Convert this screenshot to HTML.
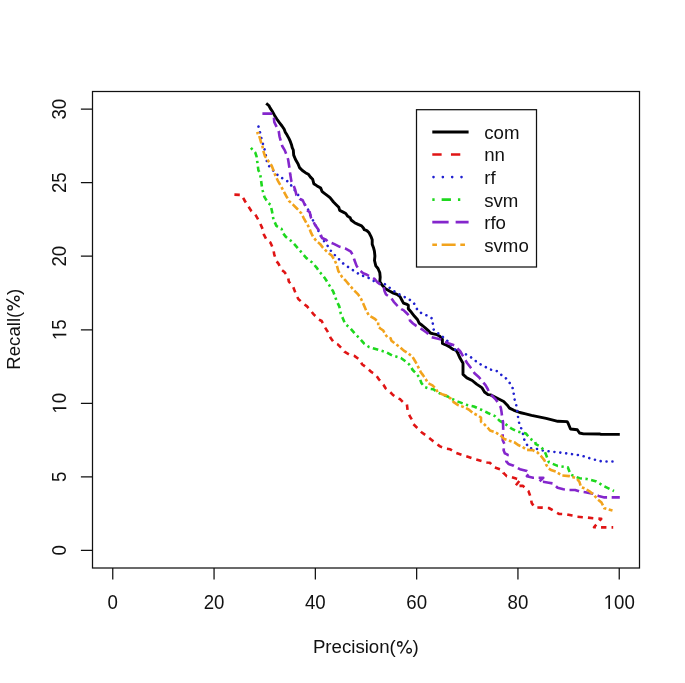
<!DOCTYPE html>
<html><head><meta charset="utf-8"><style>
html,body{margin:0;padding:0;background:#fff;width:685px;height:683px;overflow:hidden}
svg{display:block;will-change:transform;filter:blur(0.4px)}
text{font-family:"Liberation Sans",sans-serif;font-size:18.67px;fill:#111}
</style></head><body>
<svg width="685" height="683" viewBox="0 0 685 683">
<rect width="685" height="683" fill="#fff"/>
<path d="M266.2,103.3 L268.8,105.5 L270.2,108.1 L272.1,111.0 L274.6,115.4 L276.8,119.0 L279.4,122.7 L282.0,126.0 L284.2,129.3 L285.3,132.2 L287.1,135.1 L288.9,138.4 L290.4,141.7 L291.5,144.7 L292.2,147.6 L293.3,150.0 L293.7,155.1 L295.5,159.5 L298.1,163.9 L299.5,167.6 L302.4,170.5 L305.4,172.7 L308.3,174.2 L310.5,177.1 L312.7,179.3 L313.8,183.7 L317.1,185.9 L320.7,188.1 L322.2,191.7 L325.1,193.9 L328.1,196.1 L330.0,197.6 L333.5,202.0 L336.2,204.7 L338.8,207.3 L339.7,210.4 L343.2,212.1 L345.8,213.5 L347.6,216.1 L350.2,217.8 L351.1,220.0 L354.6,222.7 L358.1,224.4 L361.6,225.8 L363.4,228.0 L364.3,229.7 L366.9,230.6 L369.1,232.8 L370.9,236.3 L372.2,239.8 L372.2,244.2 L373.5,247.7 L374.4,251.2 L374.9,256.0 L374.5,260.5 L375.8,265.8 L378.0,268.5 L379.8,272.8 L380.2,277.2 L379.8,281.6 L382.0,285.1 L385.5,288.7 L389.9,291.3 L393.4,293.1 L396.9,294.4 L400.0,296.6 L401.8,300.0 L403.5,303.1 L407.0,304.4 L408.3,305.3 L408.3,308.8 L411.4,312.3 L414.5,316.3 L417.6,319.8 L419.3,323.3 L422.4,325.5 L425.5,328.1 L428.6,330.8 L430.3,333.0 L433.4,333.8 L436.9,334.7 L439.5,336.0 L442.4,339.3 L442.4,343.5 L445.7,344.8 L449.2,346.6 L452.7,349.2 L456.2,350.5 L458.0,353.6 L460.0,358.1 L463.0,363.2 L463.0,369.8 L463.0,374.4 L466.9,377.9 L472.2,380.5 L476.6,384.1 L481.8,387.6 L484.5,392.0 L488.0,394.6 L490.5,394.9 L494.9,397.1 L499.3,399.3 L503.7,401.5 L507.3,405.2 L509.5,408.1 L513.9,410.3 L519.8,412.5 L525.6,413.9 L531.5,415.4 L538.8,416.9 L546.1,418.3 L552.0,419.8 L557.8,421.3 L567.1,421.6 L568.0,423.0 L570.5,429.0 L577.3,429.8 L579.5,433.0 L583.5,433.9 L600.0,434.0 L601.0,434.4 L619.8,434.4" fill="none" stroke="#000000" stroke-width="2.9" stroke-linejoin="round" stroke-linecap="butt"/>
<path d="M234.4,194.6 L241.5,194.9 L244.9,201.0 L247.1,204.6 L251.5,211.2 L255.1,214.2 L258.1,219.3 L260.3,223.7 L263.2,230.3 L263.9,234.7 L266.9,240.5 L270.5,242.7 L273.4,249.3 L274.2,254.4 L276.4,261.0 L278.6,263.9 L281.5,269.8 L284.4,272.0 L288.1,277.1 L288.8,281.5 L293.2,287.0 L296.1,294.6 L298.3,299.0 L304.2,304.2 L307.1,306.4 L310.7,310.7 L313.7,314.4 L318.8,319.5 L321.7,321.0 L324.7,326.9 L328.3,332.7 L330.5,337.8 L334.2,343.0 L337.8,344.4 L342.2,348.8 L344.4,351.7 L349.5,354.7 L354.7,356.1 L359.8,359.8 L362.0,364.2 L365.9,367.1 L371.7,372.2 L375.4,374.4 L379.0,379.5 L383.4,384.7 L385.6,388.3 L389.3,391.2 L392.2,394.2 L396.6,397.8 L400.3,399.3 L403.9,403.0 L406.9,404.4 L407.6,410.3 L409.8,416.1 L412.0,419.8 L413.4,424.2 L417.1,427.8 L421.5,432.2 L426.6,435.9 L431.7,440.0 L440.0,446.4 L445.9,448.6 L450.2,449.3 L456.1,452.9 L464.9,455.9 L469.3,457.3 L475.9,459.5 L486.9,462.5 L490.0,462.8 L493.5,467.0 L502.3,470.1 L503.2,472.7 L506.7,476.2 L510.0,476.7 L516.0,478.6 L520.4,479.7 L515.3,485.9 L523.0,485.9 L528.4,491.0 L530.6,497.0 L531.7,503.0 L534.7,507.5 L541.5,507.6 L548.8,508.0 L553.2,510.5 L559.0,513.9 L566.4,514.2 L572.2,515.6 L577.3,516.8 L586.9,517.5 L593.5,518.3 L601.2,518.8 L594.0,527.3 L613.2,527.4" fill="none" stroke="#e01414" stroke-width="2.6" stroke-linejoin="round" stroke-linecap="butt" stroke-dasharray="5.4,5.1"/>
<path d="M258.5,126.6 L260.2,133.0 L261.5,138.9 L263.3,145.1 L265.0,151.0 L266.2,157.0 L267.2,163.7 L270.7,168.1 L278.6,176.0 L283.9,179.1 L288.8,182.1 L292.0,186.5 L295.7,191.4 L298.7,195.8 L302.0,200.5 L305.3,205.0 L308.0,209.4 L310.1,214.7 L313.0,220.5 L316.0,226.0 L319.0,232.0 L322.0,238.9 L325.9,243.2 L331.7,252.0 L337.6,257.8 L343.4,263.7 L350.7,268.8 L356.6,272.5 L361.0,275.4 L366.9,276.9 L372.7,280.5 L376.7,282.5 L384.6,284.0 L389.0,287.3 L393.0,290.4 L397.8,293.5 L403.1,296.1 L407.9,298.8 L412.7,301.6 L415.8,306.0 L417.6,310.7 L422.4,313.6 L427.7,315.8 L432.2,318.6 L432.9,324.4 L433.7,329.5 L438.1,333.2 L441.7,336.0 L445.7,339.1 L450.0,343.5 L454.9,349.3 L460.0,352.2 L465.9,354.4 L471.0,357.3 L475.9,361.2 L480.2,364.2 L484.6,366.4 L489.0,369.3 L496.4,370.7 L500.7,374.4 L505.1,377.3 L508.1,381.0 L511.7,385.4 L513.2,389.8 L513.9,394.9 L514.7,400.0 L516.1,404.4 L516.9,408.8 L517.6,413.2 L518.3,419.1 L519.5,424.5 L521.5,429.0 L522.8,433.0 L523.6,437.0 L524.7,441.1 L529.1,448.1 L537.0,449.0 L542.9,450.5 L550.2,451.5 L558.3,452.4 L566.4,453.4 L574.4,454.5 L581.7,455.6 L588.3,457.8 L594.9,459.7 L602.2,461.5 L612.8,461.5" fill="none" stroke="#2020d0" stroke-width="2.6" stroke-linejoin="round" stroke-linecap="round" stroke-dasharray="0.01,5.9"/>
<path d="M250.9,147.9 L255.3,152.7 L256.6,156.7 L257.5,163.3 L258.4,170.3 L260.1,173.4 L261.0,180.0 L261.9,186.6 L262.8,191.0 L264.5,197.1 L268.3,203.2 L270.5,204.6 L272.0,211.2 L273.4,219.3 L276.4,225.9 L281.5,228.8 L283.0,233.2 L285.9,236.9 L292.5,242.0 L296.9,247.1 L302.0,253.0 L306.4,258.1 L312.2,262.5 L316.6,267.6 L320.0,272.5 L322.9,275.4 L325.9,279.8 L329.5,285.6 L333.2,291.5 L335.4,297.3 L336.4,300.5 L339.3,306.4 L340.8,313.7 L343.0,318.8 L345.2,323.9 L350.3,328.3 L354.7,333.4 L359.8,338.6 L364.2,343.7 L369.0,347.0 L377.4,349.5 L386.2,352.1 L392.1,355.4 L400.9,358.0 L405.4,361.2 L409.8,364.9 L412.7,370.0 L415.6,372.9 L419.3,377.3 L421.5,383.2 L424.4,386.9 L430.0,388.9 L433.5,389.3 L437.0,392.0 L443.2,395.0 L447.6,396.4 L452.0,399.0 L458.1,401.6 L466.0,404.7 L473.9,406.5 L481.8,410.0 L488.0,413.0 L494.9,416.1 L499.7,420.9 L505.8,424.4 L511.1,428.3 L517.2,431.4 L526.0,433.6 L530.4,438.9 L535.3,442.0 L535.7,444.2 L541.0,446.8 L544.5,451.2 L546.2,455.1 L548.9,462.2 L557.6,465.9 L567.8,467.3 L570.7,474.6 L579.5,478.3 L586.9,479.0 L595.6,481.2 L604.4,486.4 L614.0,491.0" fill="none" stroke="#1ed81e" stroke-width="2.6" stroke-linejoin="round" stroke-linecap="butt" stroke-dasharray="2.3,3.5,5.6,3.5"/>
<path d="M262.4,113.6 L272.5,113.6 L273.8,116.5 L274.3,122.2 L278.7,131.0 L279.5,136.3 L282.2,146.0 L284.8,150.4 L286.6,155.0 L288.1,159.4 L289.5,168.2 L290.3,174.8 L291.3,180.9 L293.5,185.3 L295.2,189.7 L296.5,195.4 L299.6,198.9 L302.7,200.2 L304.9,205.0 L306.6,209.9 L309.7,212.1 L311.0,217.8 L313.7,222.2 L315.0,224.8 L318.1,229.2 L320.3,233.6 L322.0,238.0 L326.0,239.8 L328.1,241.7 L333.9,243.9 L339.8,246.8 L345.6,248.6 L350.5,251.3 L352.9,254.9 L354.4,260.0 L356.6,265.9 L359.5,270.3 L363.2,273.2 L367.0,274.8 L371.0,276.8 L374.9,279.2 L377.6,282.5 L383.7,286.9 L384.5,291.0 L386.0,294.5 L391.2,297.9 L393.8,301.8 L397.6,306.0 L401.3,309.1 L403.5,310.1 L406.5,313.0 L409.7,316.3 L409.9,320.5 L413.0,323.5 L416.3,325.9 L420.2,328.1 L424.0,330.7 L427.2,333.0 L430.8,336.9 L436.0,338.3 L441.3,339.5 L443.1,341.3 L449.0,343.5 L454.5,345.3 L457.1,348.3 L460.0,351.0 L461.8,354.0 L464.4,358.8 L467.3,363.2 L471.6,368.8 L474.5,373.2 L479.0,377.2 L482.2,381.2 L485.5,385.2 L487.7,389.0 L489.0,392.0 L492.0,395.6 L495.6,399.3 L498.6,403.7 L500.7,407.3 L501.5,411.7 L502.2,417.6 L503.0,422.0 L503.2,428.8 L502.7,433.2 L502.7,440.2 L504.5,444.2 L503.6,450.3 L504.9,453.4 L507.6,454.7 L506.7,458.7 L506.3,461.3 L508.5,463.9 L513.7,465.7 L519.9,469.2 L526.9,471.0 L529.5,473.2 L526.9,476.2 L533.1,477.7 L543.3,477.7 L539.0,481.7 L543.0,481.8 L548.8,482.7 L553.2,483.5 L557.6,487.8 L563.4,489.3 L567.8,490.0 L575.1,490.0 L579.5,491.5 L585.4,492.2 L592.7,493.7 L598.6,495.9 L604.4,497.4 L611.7,497.4 L619.8,497.4" fill="none" stroke="#8426cc" stroke-width="2.6" stroke-linejoin="round" stroke-linecap="butt" stroke-dasharray="9.8,4.6"/>
<path d="M256.3,133.2 L258.5,133.0 L259.8,138.0 L261.1,142.5 L262.4,146.0 L263.2,150.5 L265.0,156.3 L268.1,160.7 L271.6,165.5 L273.8,171.2 L275.5,176.0 L278.2,181.3 L281.2,186.6 L283.3,190.5 L286.4,196.3 L289.1,201.1 L293.0,204.6 L297.4,209.0 L301.4,213.4 L303.6,217.8 L306.2,222.6 L309.3,227.9 L311.0,232.7 L313.2,237.1 L316.6,241.2 L320.0,243.9 L322.9,247.6 L327.3,252.0 L331.7,255.6 L334.6,260.0 L336.8,265.1 L338.3,271.0 L342.0,276.9 L345.6,280.5 L349.3,284.9 L353.7,290.0 L358.1,294.4 L361.0,298.8 L363.2,303.5 L366.2,310.5 L369.0,315.5 L372.3,317.3 L375.2,319.2 L378.2,322.1 L378.2,326.8 L380.7,328.7 L383.3,330.5 L385.1,334.2 L387.7,337.5 L390.6,338.2 L391.4,340.7 L395.7,344.0 L400.1,347.3 L403.8,350.6 L408.2,353.2 L412.6,356.9 L415.6,362.0 L418.6,367.8 L420.8,372.2 L423.0,375.1 L425.9,379.5 L428.1,383.2 L432.5,385.4 L436.1,389.0 L437.6,392.0 L442.0,394.2 L446.4,395.6 L450.8,398.6 L453.7,402.2 L458.1,405.1 L463.4,406.9 L468.7,409.5 L473.0,413.0 L477.5,415.3 L481.0,417.5 L481.0,421.8 L484.5,424.5 L488.0,428.0 L490.0,430.5 L495.3,432.3 L500.5,435.4 L504.1,438.9 L509.3,440.7 L514.6,442.4 L518.1,445.0 L522.5,446.8 L526.9,449.9 L533.1,450.3 L537.5,452.5 L541.0,456.0 L544.5,460.4 L546.2,464.8 L548.4,468.3 L551.7,470.3 L556.1,471.7 L562.0,475.4 L569.3,476.1 L576.6,478.3 L579.5,482.0 L581.0,487.1 L585.4,488.6 L589.8,491.5 L594.2,495.2 L597.1,498.8 L601.5,502.5 L604.4,508.3 L612.5,510.6" fill="none" stroke="#f2a31c" stroke-width="2.6" stroke-linejoin="round" stroke-linecap="butt" stroke-dasharray="2.8,2.5,7.6,2.5"/>
<rect x="92.5" y="91.5" width="547.0" height="476.5" fill="none" stroke="#111" stroke-width="1.25"/>
<path d="M112.76,568.0 V579.60 M214.06,568.0 V579.60 M315.35,568.0 V579.60 M416.65,568.0 V579.60 M517.94,568.0 V579.60 M619.24,568.0 V579.60 M92.5,550.35 H80.90 M92.5,476.82 H80.90 M92.5,403.28 H80.90 M92.5,329.75 H80.90 M92.5,256.22 H80.90 M92.5,182.68 H80.90 M92.5,109.15 H80.90 " stroke="#111" stroke-width="1.25" fill="none"/>
<g transform="translate(112.76,608.9)"><text x="-5.192" y="0" transform="scale(1,1.055)">0</text></g>
<g transform="translate(214.06,608.9)"><text x="-10.383" y="0" transform="scale(1,1.055)">20</text></g>
<g transform="translate(315.35,608.9)"><text x="-10.383" y="0" transform="scale(1,1.055)">40</text></g>
<g transform="translate(416.65,608.9)"><text x="-10.383" y="0" transform="scale(1,1.055)">60</text></g>
<g transform="translate(517.94,608.9)"><text x="-10.383" y="0" transform="scale(1,1.055)">80</text></g>
<g transform="translate(619.24,608.9)"><path transform="translate(-15.575,0) scale(0.009116,-0.009618)" d="M515,0L515,1237L197,1010L197,1180L530,1409L696,1409L696,0Z" fill="#111"/><text x="-5.192" y="0" transform="scale(1,1.055)">00</text></g>
<g transform="translate(66.3,550.35) rotate(-90)"><text x="-5.192" y="0" transform="scale(1,1.055)">0</text></g>
<g transform="translate(66.3,476.82) rotate(-90)"><text x="-5.192" y="0" transform="scale(1,1.055)">5</text></g>
<g transform="translate(66.3,403.28) rotate(-90)"><path transform="translate(-10.383,0) scale(0.009116,-0.009618)" d="M515,0L515,1237L197,1010L197,1180L530,1409L696,1409L696,0Z" fill="#111"/><text x="0.000" y="0" transform="scale(1,1.055)">0</text></g>
<g transform="translate(66.3,329.75) rotate(-90)"><path transform="translate(-10.383,0) scale(0.009116,-0.009618)" d="M515,0L515,1237L197,1010L197,1180L530,1409L696,1409L696,0Z" fill="#111"/><text x="0.000" y="0" transform="scale(1,1.055)">5</text></g>
<g transform="translate(66.3,256.22) rotate(-90)"><text x="-10.383" y="0" transform="scale(1,1.055)">20</text></g>
<g transform="translate(66.3,182.68) rotate(-90)"><text x="-10.383" y="0" transform="scale(1,1.055)">25</text></g>
<g transform="translate(66.3,109.15) rotate(-90)"><text x="-10.383" y="0" transform="scale(1,1.055)">30</text></g>
<g transform="translate(365.8,653.4)"><text x="-52.910" y="0">Precision(</text><circle cx="33.99" cy="-9.45" r="2.2" fill="none" stroke="#111" stroke-width="1.3"/><circle cx="43.29" cy="-2.7" r="2.3" fill="none" stroke="#111" stroke-width="1.3"/><path d="M42.59,-13.3 L34.69,0.1" stroke="#111" stroke-width="1.35" fill="none"/><text x="46.693" y="0">)</text></g>
<g transform="translate(19.6,329.3) rotate(-90)"><text x="-40.458" y="0">Recall(</text><circle cx="21.54" cy="-9.45" r="2.2" fill="none" stroke="#111" stroke-width="1.3"/><circle cx="30.84" cy="-2.7" r="2.3" fill="none" stroke="#111" stroke-width="1.3"/><path d="M30.14,-13.3 L22.24,0.1" stroke="#111" stroke-width="1.35" fill="none"/><text x="34.240" y="0">)</text></g>
<rect x="416.5" y="109.7" width="120.0" height="157.3" fill="#fff" stroke="#111" stroke-width="1.25"/>
<path d="M432.3,132.00 H468.6" stroke="#000000" stroke-width="2.9" stroke-linecap="butt" fill="none"/>
<text transform="translate(484.2,138.70)">com</text>
<path d="M432.3,154.54 H468.6" stroke="#e01414" stroke-width="2.6" stroke-linecap="butt" fill="none" stroke-dasharray="9.33,9.33"/>
<text transform="translate(484.2,161.35)">nn</text>
<path d="M433.5,177.08 H468.6" stroke="#2020d0" stroke-width="2.6" stroke-linecap="round" fill="none" stroke-dasharray="0.01,9.33"/>
<text transform="translate(484.2,184.00)">rf</text>
<path d="M432.3,199.62 H461" stroke="#1ed81e" stroke-width="2.6" stroke-linecap="butt" fill="none" stroke-dasharray="2.33,7.00,9.33,7.00"/>
<text transform="translate(484.2,206.65)">svm</text>
<path d="M432.3,222.16 H468.6" stroke="#8426cc" stroke-width="2.6" stroke-linecap="butt" fill="none" stroke-dasharray="16.33,7.00"/>
<text transform="translate(484.2,229.30)">rfo</text>
<path d="M432.3,244.70 H468.6" stroke="#f2a31c" stroke-width="2.6" stroke-linecap="butt" fill="none" stroke-dasharray="4.67,4.67,14.00,4.67"/>
<text transform="translate(484.2,251.95)">svmo</text>
</svg>
</body></html>
